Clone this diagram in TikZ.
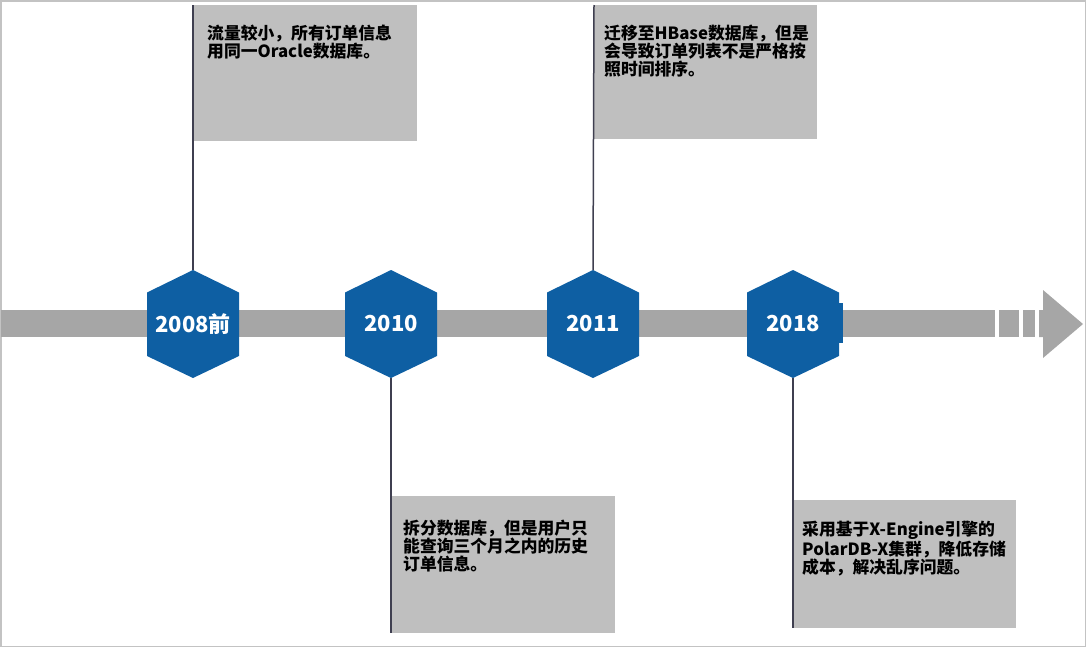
\documentclass[tikz,border=0pt]{standalone}
\usepackage{fontspec}
\newfontfamily\cjk{Noto Sans CJK SC}
\usepackage{xcolor}
\definecolor{timeBar}{HTML}{A6A6A6}
\definecolor{yearBlue}{HTML}{0E5FA3}
\definecolor{noteGray}{HTML}{BFBFBF}
\definecolor{stemDark}{HTML}{3F3F50}
\definecolor{frameGray}{HTML}{C3C3C3}
\usepackage{tikz}
\usetikzlibrary{positioning,calc}

\begin{document}
\begin{tikzpicture}[x=1pt, y=-1pt,
    yearlabel/.style={text=white, font=\cjk\bfseries\fontsize{22}{24}\selectfont, inner sep=0pt},
    notebox/.style={fill=noteGray, anchor=north west, inner sep=0pt, minimum width=224pt},
    notetext/.style={inner sep=0pt, text width=210pt, align=left, font=\cjk\bfseries\fontsize{16.8}{18}\selectfont},
    stem/.style={draw=stemDark, line width=1.5pt}]

    \useasboundingbox (0,0) rectangle (1087,648);
    \draw[frameGray, line width=1.5pt] (0.75,0.75) rectangle (1085.5,646.5);

    % --- Time bar with broken tail and arrow head ---
    \fill[timeBar] (1,310) rectangle (995,337);
    \fill[timeBar] (999,310) rectangle (1019,337);
    \fill[timeBar] (1023,310) rectangle (1035,337);
    \fill[timeBar] (1039,310) -- (1043,310) -- (1043,290) -- (1083,324)
        -- (1043,358) -- (1043,337) -- (1039,337) -- cycle;

    % --- Year hexagons ---
    \foreach \cx/\yr/\id in {193/2008前/2008, 391/2010/2010, 593/2011/2011, 793/2018/2018} {
        \fill[yearBlue] (\cx,270) -- ++(46,22.5) -- ++(0,63.5) -- ++(-46,22)
            -- ++(-46,-22) -- ++(0,-63.5) -- cycle;
        \coordinate (top\id) at (\cx,270);
        \coordinate (bot\id) at (\cx,378);
        \node[yearlabel] (y\id) at (\cx,324) {\yr};
    }
    \fill[yearBlue] (839,303) rectangle (843,343);

    % --- Notes above the bar ---
    \node[notebox, minimum height=136pt] (note2008) at (193,5) {};
    \node[notetext, below right=20pt and 14pt of note2008.north west] (text2008)
        {流量较小，所有订单信息\\用同一Oracle数据库。};
    \draw[stem] (top2008) -- (note2008.north west);

    \node[notebox, minimum width=223pt, minimum height=134pt] (note2011) at (594,5) {};
    \node[notetext, below right=20pt and 10pt of note2011.north west] (text2011)
        {迁移至HBase数据库，但是\\会导致订单列表不是严格按\\照时间排序。};
    \draw[stem] (top2011) -- (note2011.north west);

    % --- Notes below the bar ---
    \node[notebox, minimum height=137pt] (note2010) at (391,496) {};
    \node[notetext, below right=24pt and 12pt of note2010.north west] (text2010)
        {拆分数据库，但是用户只\\能查询三个月之内的历史\\订单信息。};
    \draw[stem] (bot2010) -- (note2010.south west);

    \node[notebox, minimum width=223pt, minimum height=128pt] (note2018) at (793,500) {};
    \node[notetext, below right=21pt and 9pt of note2018.north west] (text2018)
        {采用基于X-Engine引擎的\\PolarDB-X集群，降低存储\\成本，解决乱序问题。};
    \draw[stem] (bot2018) -- (note2018.south west);

\end{tikzpicture}
\end{document}
